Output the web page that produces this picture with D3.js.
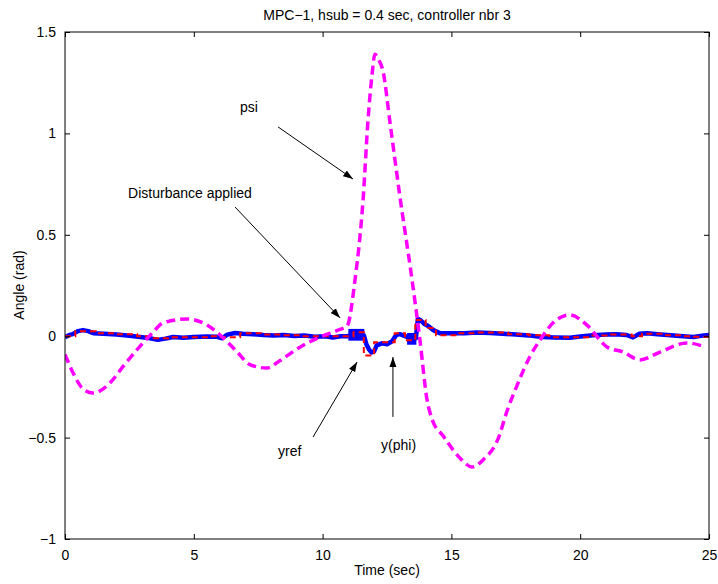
<!DOCTYPE html>
<html>
<head>
<meta charset="utf-8">
<script src="https://cdn.jsdelivr.net/npm/d3@7"></script>
<style>
  html, body { margin: 0; padding: 0; background: #fff; }
  svg { display: block; font-family: "Liberation Sans", Arial, Helvetica, sans-serif; }
</style>
</head>
<body>
<div id="chart"></div>
<script>
// psi (magenta dashed)
const psiTime  = [0, 0.31, 0.7, 1.09, 1.75, 2.25, 2.91, 3.42, 3.8, 4.74, 5.51, 6.02, 6.68, 7.18, 7.84, 8.35, 9.12, 9.9, 10.6, 10.95,
                  11.26, 11.57, 11.76, 11.92, 12.03, 12.19, 12.34, 12.62, 13.0, 13.47, 13.78, 14.05, 14.25, 14.67, 15.33, 15.8,
                  16.23, 16.89, 17.08, 17.59, 18.05, 18.52, 18.94, 19.6, 20.26, 21.04, 21.66, 22.32, 23.1, 24.15, 24.84];
const psiValue = [-0.09, -0.18, -0.26, -0.28, -0.23, -0.15, -0.05, 0.02, 0.065, 0.085, 0.055, 0.006, -0.077, -0.14, -0.157, -0.12, -0.054, -0.004, 0.03, 0.05,
                  0.28, 0.67, 1.06, 1.29, 1.39, 1.36, 1.31, 1.05, 0.69, 0.28, -0.02, -0.31, -0.41, -0.49, -0.6, -0.645,
                  -0.61, -0.48, -0.4, -0.23, -0.1, -0.004, 0.065, 0.105, 0.055, -0.053, -0.078, -0.117, -0.078, -0.033, -0.053];

// y(phi) (blue)
const phiTime  = [0, 0.15, 0.3, 0.5, 0.7, 0.9, 1.1, 1.5, 2.0, 2.5, 3.0, 3.3, 3.6, 3.9, 4.2, 4.6, 5.0, 5.5, 5.9, 6.1, 6.3, 6.6, 6.9, 7.3, 7.7,
                  8.1, 8.5, 8.9, 9.3, 9.7, 10.1, 10.4, 10.7, 10.95, 11.3, 11.6,
                  11.7, 11.8, 11.9, 12.0, 12.1, 12.3, 12.5, 12.7, 12.85, 13.0, 13.2, 13.45, 13.62,
                  13.7, 13.8, 13.95, 14.1, 14.3, 14.55, 15.0, 15.5, 16.0, 16.5, 17.0, 17.5, 18.0, 18.5, 19.0, 19.6,
                  20.0, 20.5, 21.0, 21.4, 21.8, 22.05, 22.3, 22.6, 23.0, 23.5, 24.0, 24.4, 24.8, 25.0];
const phiValue = [-0.005, 0.005, 0.01, 0.025, 0.03, 0.025, 0.015, 0.012, 0.008, 0.002, -0.005, -0.01, -0.018, -0.012, -0.004, -0.008, -0.004, -0.002, -0.003, -0.01, 0.008, 0.016, 0.012, 0.01, 0.006,
                  0.004, 0.006, 0.001, 0.003, -0.003, 0, -0.006, 0, 0, 0.008, 0.005,
                  -0.04, -0.065, -0.08, -0.075, -0.045, -0.035, -0.04, -0.025, 0.005, 0.01, 0, -0.012, -0.01,
                  0.085, 0.08, 0.06, 0.05, 0.03, 0.015, 0.014, 0.015, 0.018, 0.016, 0.012, 0.008, 0.004, -0.004, -0.006, -0.008,
                  -0.002, 0.005, 0.008, 0.01, 0.006, -0.006, 0.012, 0.015, 0.01, 0.005, 0, -0.004, 0.004, 0.006];

// where y(phi) chatters fast: time span and low/high envelope
const chatterStart = [11.0, 13.28];
const chatterEnd   = [11.62, 13.64];
const chatterLow   = [-0.022, -0.042];
const chatterHigh  = [0.036, 0.016];

// yref (red dashed, held every sample)
const refTime  = [0, 0.4, 1.2, 2.0, 2.8, 3.2, 4.0, 4.8, 5.6, 6.0, 6.8, 7.6, 8.4, 9.2, 10.0, 10.8, 11.2, 11.6, 12.0, 12.8, 13.2, 13.6, 14.0, 14.4,
                  15.2, 16.0, 17.2, 18.0, 18.8, 19.6, 20.4, 21.2, 22.0, 22.4, 23.2, 24.0, 24.4, 25.0];
const refValue = [0, 0.025, 0.015, 0.01, 0, -0.01, -0.005, -0.005, 0, -0.005, 0.015, 0.008, 0.005, 0, 0, 0, 0.02, -0.095, -0.03, 0.015, -0.02, 0.08, 0.04, 0.005,
                  0.015, 0.018, 0.01, 0.005, -0.005, -0.005, 0.003, 0.008, 0, 0.012, 0.005, 0, -0.003, -0.003];

const xTicks = [0, 5, 10, 15, 20, 25];
const yTicks = [-1, -0.5, 0, 0.5, 1, 1.5];

// annotations in data units: label, text pos, arrow tail, arrow head
const notes = [
  {text: 'psi',                 tx: 6.79, ty: 1.105,  x1: 8.27,  y1: 1.032,  x2: 11.18, y2: 0.775},
  {text: 'Disturbance applied', tx: 2.45, ty: 0.681,  x1: 6.6,   y1: 0.637,  x2: 10.68, y2: 0.09},
  {text: 'yref',                tx: 8.27, ty: -0.591, x1: 9.63,  y1: -0.497, x2: 11.34, y2: -0.127},
  {text: 'y(phi)',              tx: 12.27, ty: -0.561, x1: 12.73, y1: -0.398, x2: 12.73, y2: -0.103}
];

const W = 718, H = 584;
const margin = {top: 32, right: 9, bottom: 45, left: 65};
const innerW = W - margin.left - margin.right;
const innerH = H - margin.top - margin.bottom;

const svg = d3.select('#chart').append('svg').attr('width', W).attr('height', H);
const g = svg.append('g').attr('transform', `translate(${margin.left},${margin.top})`);

const x = d3.scaleLinear().domain([0, 25]).range([0, innerW]);
const y = d3.scaleLinear().domain([-1, 1.5]).range([innerH, 0]);

const fmt = v => String(v).replace('-', '\u2212');

svg.append('defs').append('marker')
  .attr('id', 'head').attr('viewBox', '0 -4 10 8')
  .attr('refX', 10).attr('refY', 0)
  .attr('markerUnits', 'userSpaceOnUse')
  .attr('markerWidth', 10).attr('markerHeight', 8)
  .attr('orient', 'auto')
  .append('path').attr('d', 'M0,-3.5L10,0L0,3.5Z').attr('fill', '#000');

const clip = svg.append('clipPath').attr('id', 'clip');
clip.append('rect').attr('width', innerW).attr('height', innerH);

// series
const toPts = (ts, vs) => ts.map((t, i) => ({t, v: vs[i]}));
const series = g.append('g').attr('clip-path', 'url(#clip)');

series.selectAll('rect.chatter').data(chatterStart).join('rect')
  .attr('class', 'chatter')
  .attr('x', (d, i) => x(chatterStart[i]))
  .attr('width', (d, i) => x(chatterEnd[i]) - x(chatterStart[i]))
  .attr('y', (d, i) => y(chatterHigh[i]))
  .attr('height', (d, i) => y(chatterLow[i]) - y(chatterHigh[i]))
  .attr('fill', '#0000ff');

series.append('path').datum(toPts(phiTime, phiValue))
  .attr('fill', 'none').attr('stroke', '#0000ff').attr('stroke-width', 4.5)
  .attr('stroke-linejoin', 'round')
  .attr('d', d3.line().x(d => x(d.t)).y(d => y(d.v)));

series.append('path').datum(toPts(refTime, refValue))
  .attr('fill', 'none').attr('stroke', '#ff0000').attr('stroke-width', 2)
  .attr('stroke-dasharray', '6 4').attr('d', d3.line().x(d => x(d.t)).y(d => y(d.v)).curve(d3.curveStepAfter));

series.append('path').datum(toPts(psiTime, psiValue))
  .attr('fill', 'none').attr('stroke', '#ff00ff').attr('stroke-width', 3.5)
  .attr('stroke-dasharray', '9 5').attr('d', d3.line().x(d => x(d.t)).y(d => y(d.v)).curve(d3.curveMonotoneX));

// axes: box with inward ticks on all sides
const tick = 5;
const xA = d3.axisBottom(x).tickValues(xTicks).tickSize(-tick).tickPadding(tick + 6).tickFormat(fmt);
const yA = d3.axisLeft(y).tickValues(yTicks).tickSize(-tick).tickPadding(tick + 4).tickFormat(fmt);
const xAt = d3.axisTop(x).tickValues(xTicks).tickSize(-tick).tickFormat('');
const yAr = d3.axisRight(y).tickValues(yTicks).tickSize(-tick).tickFormat('');

function style(sel){
  sel.select('.domain').remove();
  sel.selectAll('line').attr('stroke', '#000');
  sel.selectAll('text').attr('fill', '#000').style('font-size', '14px').style('font-family', null);
}
g.append('g').attr('transform', `translate(0,${innerH})`).call(xA).call(style);
g.append('g').call(yA).call(style);
g.append('g').call(xAt).call(style);
g.append('g').attr('transform', `translate(${innerW},0)`).call(yAr).call(style);

g.append('rect').attr('width', innerW).attr('height', innerH)
  .attr('fill', 'none').attr('stroke', '#000').attr('stroke-width', 1);

// annotations
const ann = g.append('g');
notes.forEach(n => {
  ann.append('line')
    .attr('x1', x(n.x1)).attr('y1', y(n.y1)).attr('x2', x(n.x2)).attr('y2', y(n.y2))
    .attr('stroke', '#000').attr('stroke-width', 1).attr('marker-end', 'url(#head)');
  ann.append('text').attr('x', x(n.tx)).attr('y', y(n.ty))
    .style('font-size', '14px').attr('fill', '#000').text(n.text);
});

// labels
svg.append('text').attr('x', margin.left + innerW / 2).attr('y', 20)
  .attr('text-anchor', 'middle').style('font-size', '14px').text('MPC\u22121, hsub = 0.4 sec, controller nbr 3');
svg.append('text').attr('x', margin.left + innerW / 2).attr('y', 575)
  .attr('text-anchor', 'middle').style('font-size', '14px').text('Time (sec)');
svg.append('text').attr('transform', 'translate(24,285) rotate(-90)')
  .attr('text-anchor', 'middle').style('font-size', '14px').text('Angle (rad)');
</script>
</body>
</html>
